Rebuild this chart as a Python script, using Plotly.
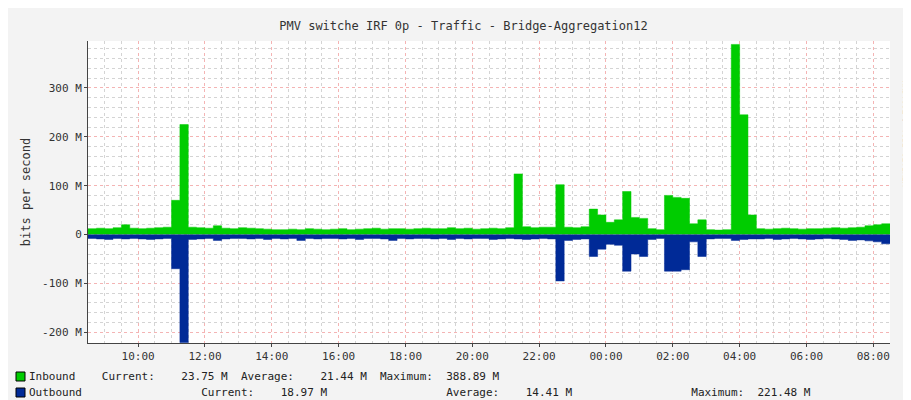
import plotly.graph_objects as go
import pandas as pd

start = "2024-01-01 08:30"
inbound = [12,13,12,14,20,13,12,13,14,15,
           70,225,
           15,14,13,18,13,12,14,13,
           12,11,10,10,11,10,12,11,10,11,
           12,10,11,12,13,11,12,12,11,12,
           13,12,12,14,12,13,11,12,13,12,
           14,124,16,14,15,15,102,15,14,16,
           52,40,25,30,88,35,33,12,10,80,
           76,74,22,30,10,9,10,389,245,40,
           12,11,12,13,12,11,12,12,13,14,13,14,15,18,20,22]
outbound = [-8,-9,-10,-8,-9,-8,-9,-10,-9,-8,
            -70,-221,
            -10,-9,-8,-12,-9,-8,-8,-9,
            -8,-10,-8,-9,-8,-12,-8,-9,-8,-8,
            -9,-8,-10,-8,-8,-9,-12,-8,-9,-8,
            -8,-9,-8,-10,-8,-9,-8,-8,-10,-9,
            -8,-9,-10,-9,-8,-9,-95,-12,-10,-9,
            -45,-30,-20,-22,-75,-40,-45,-10,-8,-75,
            -75,-72,-15,-45,-9,-8,-8,-12,-10,-9,
            -9,-8,-10,-9,-8,-9,-10,-9,-8,-9,-10,-12,-11,-13,-15,-19]
ytick_vals = [-200,-100,0,100,200,300]
ytick_text = ["-200 M","-100 M","0","100 M","200 M","300 M"]
legend_rows = [("Inbound", "#00cc00", "Inbound    Current:    23.75 M  Average:    21.44 M  Maximum:  388.89 M"),
               ("Outbound", "#002a97", "Outbound                  Current:    18.97 M                  Average:    14.41 M                  Maximum:  221.48 M")]

times = pd.date_range(start, periods=len(inbound) + 1, freq="15min")
inb = inbound + [inbound[-1]]
outb = outbound + [outbound[-1]]

FONT = "DejaVu Sans Mono"
fig = go.Figure()
fig.add_trace(go.Scatter(x=times, y=inb, mode="lines", line=dict(shape="hv", width=0.5, color="#00cc00"),
                         fill="tozeroy", fillcolor="#00cc00", name="Inbound"))
fig.add_trace(go.Scatter(x=times, y=outb, mode="lines", line=dict(shape="hv", width=0.5, color="#002a97"),
                         fill="tozeroy", fillcolor="#002a97", name="Outbound"))

fig.update_layout(
    width=911, height=400, showlegend=False,
    paper_bgcolor="#f3f3f3", plot_bgcolor="white",
    margin=dict(l=80, r=29, t=33, b=65, autoexpand=False),
    font=dict(family=FONT, size=11, color="#333"),
    title=dict(text="PMV switche IRF 0p - Traffic - Bridge-Aggregation12", x=0.5, y=0.965,
               xanchor="center", font=dict(family=FONT, size=12, color="#333")),
    xaxis=dict(range=[times[0], times[-1]], tickformat="%H:%M", dtick=2*3600*1000, automargin=False,
               tick0="2024-01-01 10:00", showgrid=True, gridcolor="#f4b4b4", griddash="dot",
               gridwidth=1, showline=True, linecolor="#444", ticks="outside", ticklen=3,
               minor=dict(dtick=30*60*1000, tick0="2024-01-01 08:30", showgrid=True,
                          gridcolor="#d4d4d4", griddash="dot")),
    yaxis=dict(range=[-222, 396], tickvals=ytick_vals, ticktext=ytick_text, showgrid=True, automargin=False,
               gridcolor="#f4b4b4", griddash="dot", zeroline=False, showline=True,
               linecolor="#444", ticks="outside", ticklen=3,
               title=dict(text="bits per second", font=dict(family=FONT, size=12), standoff=8),
               minor=dict(dtick=20, tick0=0, showgrid=True, gridcolor="#d4d4d4", griddash="dot")),
)
for i, (name, col, txt) in enumerate(legend_rows):
    ypix = 368 + i * 16
    fig.add_shape(type="rect", xref="paper", yref="paper",
                  x0=(8-80)/802, x1=(17-80)/802, y0=(335-ypix-5)/302, y1=(335-ypix+4)/302,
                  fillcolor=col, line=dict(color="black", width=1))
    fig.add_annotation(text=txt, xref="paper", yref="paper", x=(19-80)/802, y=(335-ypix)/302,
                       xanchor="left", yanchor="middle", showarrow=False,
                       font=dict(family=FONT, size=11, color="#222"))
fig.add_annotation(text="RRDTOOL / TOBI OETIKER", xref="paper", yref="paper", x=(903-80)/802,
                   y=(335-70)/302, textangle=90, showarrow=False,
                   font=dict(family=FONT, size=8, color="#aaaaaa"))
fig.write_html("out.html")
